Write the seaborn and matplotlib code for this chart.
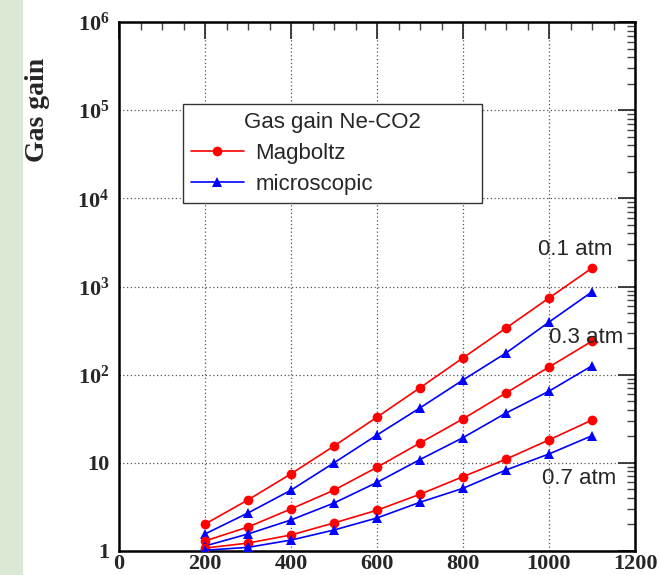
import numpy as np
import pandas as pd
import matplotlib
matplotlib.use("Agg")
import matplotlib.pyplot as plt
import seaborn as sns
from matplotlib.ticker import FixedLocator, FuncFormatter, LogLocator, MultipleLocator, NullFormatter
from matplotlib.lines import Line2D

# ---- data ----
voltage = [200, 300, 400, 500, 600, 700, 800, 900, 1000, 1100]
magboltz_01 = [2.02, 3.8, 7.5, 15.5, 33, 71, 155, 338, 740, 1620]
micro_01 = [1.56, 2.7, 4.9, 10, 20.7, 42, 87, 176, 395, 870]
magboltz_03 = [1.3, 1.87, 3.0, 4.9, 8.9, 16.8, 31.5, 62, 122, 240]
micro_03 = [1.14, 1.56, 2.25, 3.5, 6.0, 10.9, 19.3, 36.7, 65, 126]
magboltz_07 = [1.08, 1.23, 1.52, 2.08, 2.9, 4.4, 6.97, 11, 18.2, 30.6]
micro_07 = [1.02, 1.1, 1.33, 1.73, 2.37, 3.57, 5.14, 8.3, 12.6, 20.3]
pressure_labels = ["0.1 atm", "0.3 atm", "0.7 atm"]
label_pos = [(1060, 2600), (1086, 267), (1070, 6.7)]
x_ticks = [0, 200, 400, 600, 800, 1000, 1200]
y_ticks = [1, 10, 100, 1e3, 1e4, 1e5, 1e6]
y_tick_labels = ["1", "10", r"$\mathbf{10^{2}}$", r"$\mathbf{10^{3}}$",
                 r"$\mathbf{10^{4}}$", r"$\mathbf{10^{5}}$", r"$\mathbf{10^{6}}$"]
legend_title = "Gas gain Ne-CO2"
series_names = ["Magboltz", "microscopic"]
y_label = "Gas gain"

sns.set_style("white")
plt.rcParams["font.family"] = ["Liberation Sans", "DejaVu Sans"]
plt.rcParams["mathtext.fontset"] = "custom"
plt.rcParams["mathtext.rm"] = "Liberation Serif:bold"
plt.rcParams["mathtext.bf"] = "Liberation Serif:bold"
plt.rcParams["mathtext.it"] = "Liberation Serif:bold"

fig = plt.figure(figsize=(6.59, 5.75), dpi=100)
fig.patches.append(plt.Rectangle((0, 0), 22 / 659, 1, transform=fig.transFigure,
                                 color="#dae9d4", zorder=0))
ax = fig.add_axes([119 / 659, 1 - 551 / 575, 516 / 659, 529 / 575])

red = "#ff0000"
blue = "#0000ff"
for ys, col, mk in [(magboltz_01, red, "o"), (micro_01, blue, "^"),
                    (magboltz_03, red, "o"), (micro_03, blue, "^"),
                    (magboltz_07, red, "o"), (micro_07, blue, "^")]:
    df = pd.DataFrame({"v": voltage, "g": ys})
    sns.lineplot(data=df, x="v", y="g", ax=ax, color=col, marker=mk,
                 markersize=7, markeredgewidth=0, linewidth=1.2, zorder=3)

ax.set_yscale("log")
ax.set_xlim(0, 1200)
ax.set_ylim(1, 1e6)
ax.set_xlabel("")
ax.set_ylabel(y_label, fontsize=20, fontweight="bold", family="Liberation Serif")
ax.yaxis.set_label_coords((50 - 119) / 516, (551 - 110) / 529)

ax.xaxis.set_major_locator(FixedLocator(x_ticks))
ax.xaxis.set_minor_locator(MultipleLocator(50))
ax.yaxis.set_major_locator(FixedLocator(y_ticks))
ax.yaxis.set_major_formatter(FuncFormatter(lambda v, p: y_tick_labels[int(round(np.log10(v)))]))
ax.yaxis.set_minor_locator(LogLocator(base=10, subs=np.arange(2, 10), numticks=20))
ax.yaxis.set_minor_formatter(NullFormatter())

for lab in ax.get_xticklabels():
    lab.set_family("Liberation Serif")
    lab.set_fontweight("bold")
for lab in ax.get_yticklabels():
    lab.set_family("Liberation Serif")
    lab.set_fontweight("bold")
ax.tick_params(axis="both", which="major", direction="in", length=12, width=1.2,
               labelsize=16, top=True, right=True, color="#222222")
ax.tick_params(axis="both", which="minor", direction="in", length=6, width=1.0,
               top=True, right=True, color="#444444")
ax.tick_params(axis="x", which="major", pad=2)
ax.tick_params(axis="y", which="major", pad=7)

for s in ax.spines.values():
    s.set_linewidth(1.8)
    s.set_color("black")
    s.set_visible(True)

ax.grid(True, which="major", linestyle=(0, (1, 2)), color="#555555", linewidth=0.9)
ax.set_axisbelow(True)

for txt, (xx, yy) in zip(pressure_labels, label_pos):
    ax.text(xx, yy, txt, fontsize=16, ha="center", va="center", zorder=4)

handles = [Line2D([], [], color=red, marker="o", markersize=7, markeredgewidth=0, linewidth=1.2),
           Line2D([], [], color=blue, marker="^", markersize=7, markeredgewidth=0, linewidth=1.2)]
leg = ax.legend(handles, series_names, title=legend_title, loc="upper left",
                bbox_to_anchor=(0.124, 0.658, 0.579, 0.187), mode="expand",
                fontsize=16, title_fontsize=16, frameon=True, fancybox=False,
                framealpha=1, edgecolor="#333333", handlelength=2.4,
                handletextpad=0.5, labelspacing=0.45, borderpad=0.35,
                borderaxespad=0)
leg.get_frame().set_linewidth(1.0)
leg.set_zorder(5)

fig.savefig("out.png", dpi=100)
